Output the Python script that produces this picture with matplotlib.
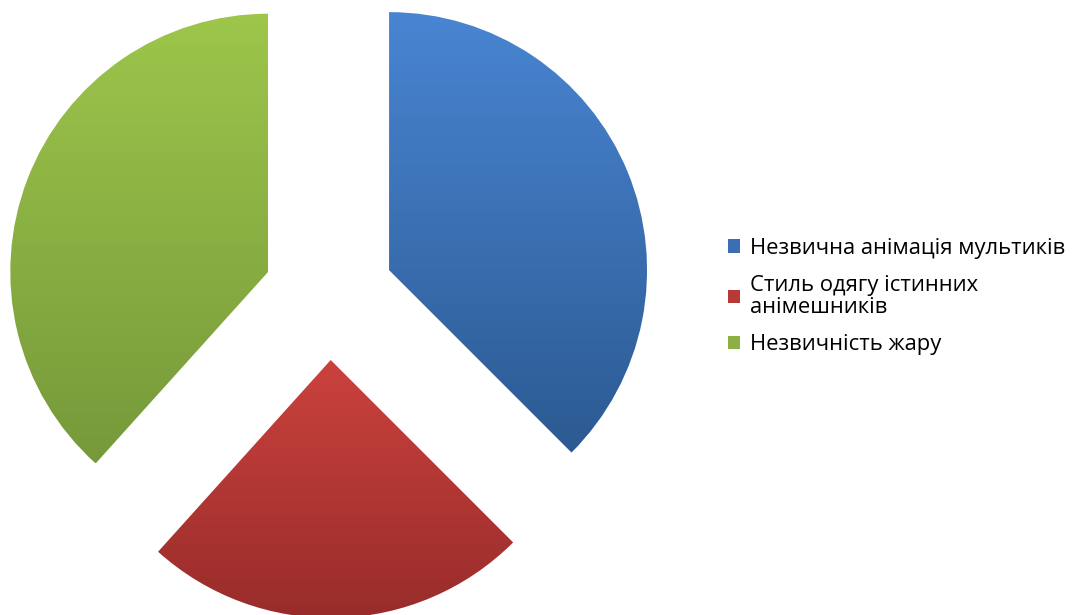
import numpy as np
import matplotlib.pyplot as plt
from matplotlib.colors import LinearSegmentedColormap
from matplotlib.patches import Patch

plt.rcParams['font.family'] = ['Open Sans', 'DejaVu Sans']

labels = ['Незвична анімація мультиків',
          'Стиль одягу істинних\nанімешників',
          'Незвичність жару']
values = [45, 29, 46]
top_colors = ['#4985d2', '#cb423e', '#9dc64b']
bottom_colors = ['#2c5a92', '#982c2a', '#76993a']
mid_colors = ['#3b6eb4', '#b73a36', '#8cb043']

W, H = 1072, 615
R = 258.0
cx, cy = 329, 295

fig = plt.figure(figsize=(W / 100, H / 100), dpi=100)
ax = fig.add_axes([0, 0, 1, 1])
ax.axis('off')

wedges, _ = ax.pie(values, startangle=90, counterclock=False,
                   explode=[0.252, 0.252, 0.252], radius=1.0)
ax.set_aspect('equal')

# vertical gradient fill, clipped to each wedge
grad = np.linspace(0, 1, 256).reshape(-1, 1)
for w, c0, c1 in zip(wedges, top_colors, bottom_colors):
    w.set_facecolor('none')
    w.set_edgecolor('none')
    cmap = LinearSegmentedColormap.from_list('g', [c0, c1])
    bb = w.get_path().get_extents(w.get_transform() + ax.transData.inverted())
    im = ax.imshow(grad, cmap=cmap, aspect='auto', origin='upper',
                   extent=[bb.x0, bb.x1, bb.y0, bb.y1], zorder=1)
    im.set_clip_path(w)
ax.set_xlim(-cx / R, (W - cx) / R)
ax.set_ylim(-(H - cy) / R, cy / R)

handles = [Patch(facecolor=c, edgecolor='none') for c in mid_colors]
leg = fig.legend(handles, labels, loc='center left', bbox_to_anchor=(0.679, 0.518),
                 frameon=False, fontsize=15.8, handlelength=0.55, handleheight=0.55,
                 handletextpad=0.45, labelspacing=0.72, borderpad=0, borderaxespad=0)
for t in leg.get_texts():
    t.set_linespacing(1.1)

fig.savefig('out.png', dpi=100, facecolor='white')
